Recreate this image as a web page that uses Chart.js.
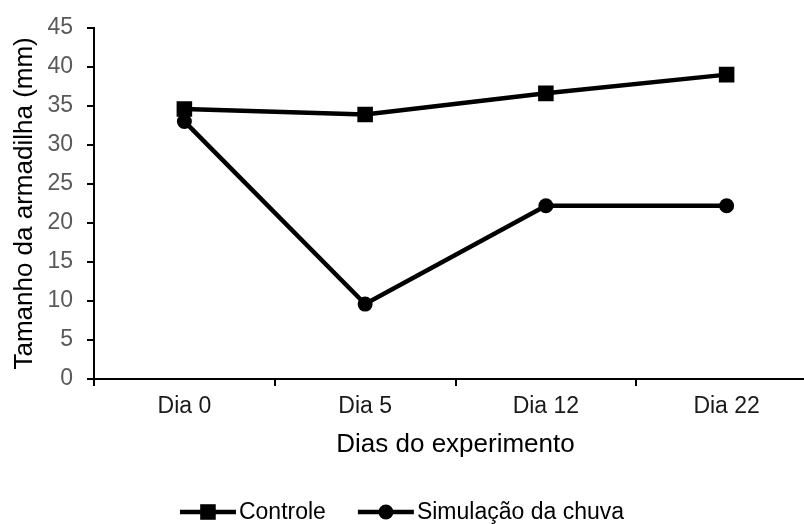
<!DOCTYPE html>
<html>
<head>
<meta charset="utf-8">
<script src="https://cdn.jsdelivr.net/npm/chart.js@4/dist/chart.umd.min.js"></script>
<style>
  html, body { margin: 0; padding: 0; background: #fff; overflow: hidden; }
  #wrap { width: 828px; height: 524px; }
</style>
</head>
<body>
<div id="wrap"><canvas id="grafico"></canvas></div>
<script>
// === Dados do gráfico ===
const dias = ['Dia 0', 'Dia 5', 'Dia 12', 'Dia 22'];
const controle = [34.6, 33.9, 36.6, 39.0];
const simulacaoChuva = [33.0, 9.6, 22.2, 22.2];
const yTicks = [0, 5, 10, 15, 20, 25, 30, 35, 40, 45];

const fonte = "'Liberation Sans', Arial, sans-serif";

// legenda desenhada à mão: linha + marcador, como no original
const legendaLinha = {
  id: 'legendaLinha',
  afterDraw(chart) {
    const ctx = chart.ctx;
    const segW = 56, gapTxt = 3, gapItem = 32;
    ctx.save();
    ctx.font = '23px ' + fonte;
    const itens = chart.data.datasets.map(ds => ({ ds, w: ctx.measureText(ds.label).width }));
    const total = itens.reduce((s, it) => s + segW + gapTxt + it.w, 0) + gapItem * (itens.length - 1);
    let x = 402 - total / 2;
    const y = 512;
    itens.forEach(({ ds, w }) => {
      ctx.strokeStyle = ds.borderColor;
      ctx.lineWidth = ds.borderWidth;
      ctx.beginPath();
      ctx.moveTo(x, y);
      ctx.lineTo(x + segW, y);
      ctx.stroke();
      ctx.fillStyle = ds.pointBackgroundColor;
      const cx = x + segW / 2;
      if (ds.pointStyle === 'rect') {
        const s = ds.pointRadius * Math.SQRT1_2;
        ctx.fillRect(cx - s, y - s, 2 * s, 2 * s);
      } else {
        ctx.beginPath();
        ctx.arc(cx, y, ds.pointRadius, 0, Math.PI * 2);
        ctx.fill();
      }
      ctx.fillStyle = '#000';
      ctx.textBaseline = 'middle';
      ctx.fillText(ds.label, x + segW + gapTxt, y + 1);
      x += segW + gapTxt + w + gapItem;
    });
    ctx.restore();
  }
};

const ctx = document.getElementById('grafico').getContext('2d');
new Chart(ctx, {
  type: 'line',
  data: {
    labels: dias,
    datasets: [
      {
        label: 'Controle',
        data: controle,
        borderColor: '#000',
        borderWidth: 4.5,
        pointStyle: 'rect',
        pointRadius: 11,
        pointBackgroundColor: '#000',
        pointBorderWidth: 0,
        tension: 0
      },
      {
        label: 'Simulação da chuva',
        data: simulacaoChuva,
        borderColor: '#000',
        borderWidth: 4.5,
        pointStyle: 'circle',
        pointRadius: 7.5,
        pointBackgroundColor: '#000',
        pointBorderWidth: 0,
        tension: 0
      }
    ]
  },
  options: {
    responsive: true,
    maintainAspectRatio: false,
    animation: false,
    layout: { padding: { top: 20, right: 0, bottom: 60, left: 0 } },
    plugins: {
      legend: { display: false },
      tooltip: { enabled: false }
    },
    scales: {
      x: {
        type: 'category',
        offset: true,
        grid: { offset: true, drawOnChartArea: false, drawTicks: true, tickLength: 7, color: '#000', lineWidth: 2 },
        border: { color: '#000', width: 2 },
        ticks: { color: '#1a1a1a', padding: 7, font: { family: fonte, size: 23 }, maxRotation: 0 },
        title: { display: true, text: 'Dias do experimento', color: '#000', font: { family: fonte, size: 26 }, padding: { top: 0, bottom: 4 } },
        afterFit: s => { s.height = 85; }
      },
      y: {
        min: 0,
        max: 45,
        afterBuildTicks: s => { s.ticks = yTicks.map(v => ({ value: v })); },
        grid: { drawOnChartArea: false, drawTicks: true, tickLength: 7, color: '#000', lineWidth: 2 },
        border: { color: '#000', width: 2 },
        ticks: { color: '#595959', padding: 14, font: { family: fonte, size: 23 } },
        title: { display: true, text: 'Tamanho da armadilha (mm)', color: '#000', font: { family: fonte, size: 26 }, padding: { top: 9, bottom: 0 } },
        afterFit: s => { s.width = 94; }
      }
    }
  },
  plugins: [legendaLinha]
});
</script>
</body>
</html>
